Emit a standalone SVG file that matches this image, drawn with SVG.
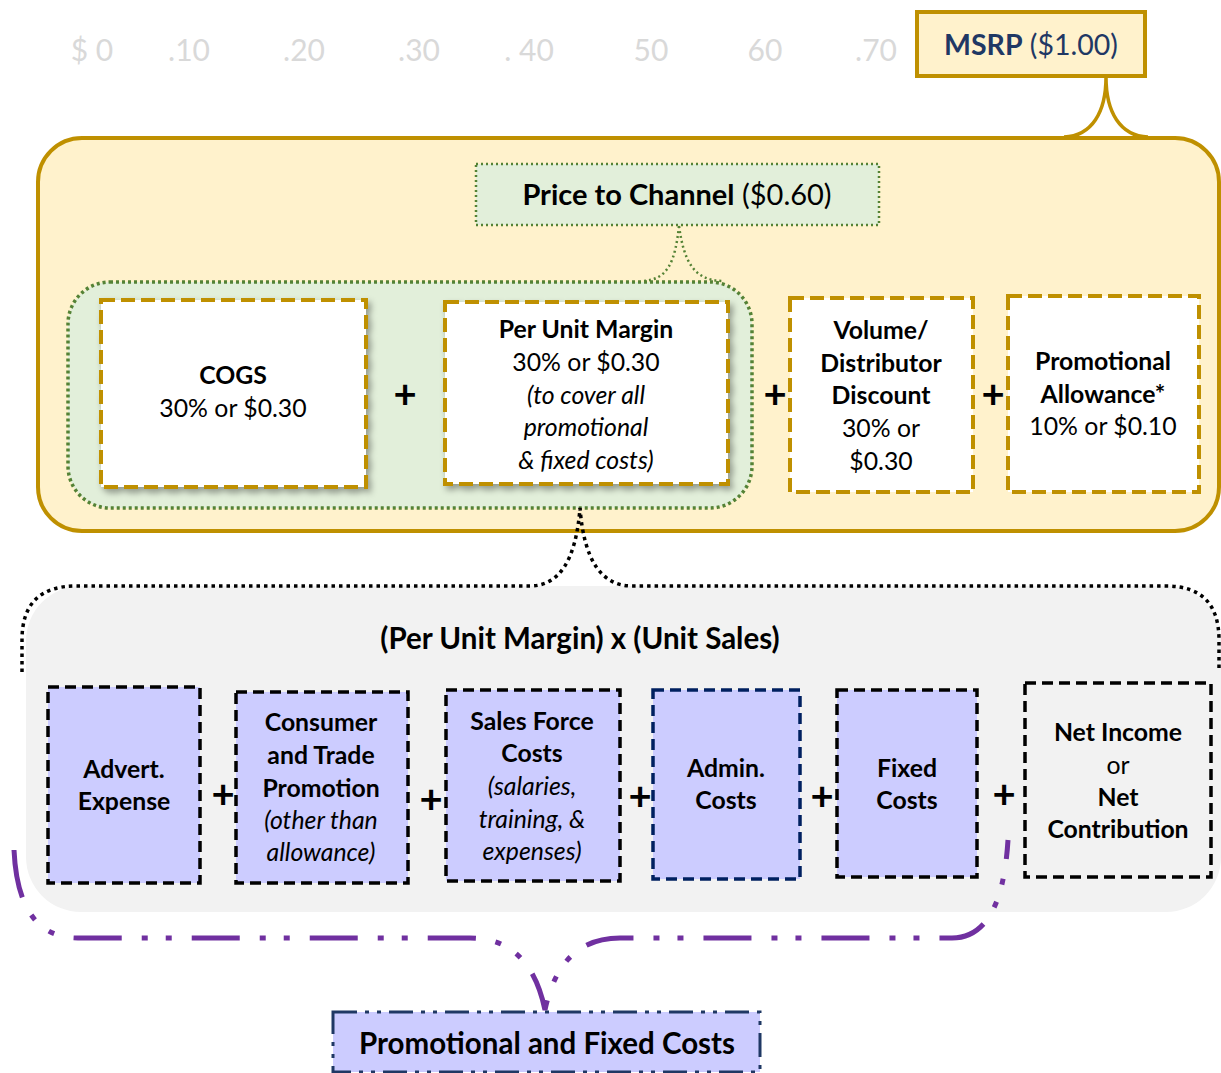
<svg xmlns="http://www.w3.org/2000/svg" width="1221" height="1073" viewBox="0 0 1221 1073">
<defs>
<style>
text{font-family:Lato,"Open Sans","Liberation Sans",sans-serif;text-anchor:middle;fill:#000}
.axis{font-size:30px;fill:#d9d9d9}
.t{font-size:24.8px}
.b{font-weight:bold}
.i{font-style:italic}
.gold{fill:#fff;stroke:#bf9000;stroke-width:4;stroke-dasharray:14 6}
.blu{fill:#ccccff;stroke:#000;stroke-width:3.5;stroke-dasharray:11 6}
.plus{font-size:40px;font-weight:bold}
</style>
<filter id="sh" x="-10%" y="-10%" width="130%" height="130%">
<feDropShadow dx="3" dy="4" stdDeviation="3" flood-color="#000" flood-opacity="0.35"/>
</filter>
</defs>
<rect width="1221" height="1073" fill="#fff"/>
<g id="axis">
<text class="axis" x="92" y="61">$ 0</text>
<text class="axis" x="189" y="61">.10</text>
<text class="axis" x="304" y="61">.20</text>
<text class="axis" x="419" y="61">.30</text>
<text class="axis" x="529" y="61">. 40</text>
<text class="axis" x="651" y="61">50</text>
<text class="axis" x="765" y="61">60</text>
<text class="axis" x="876" y="61">.70</text>
</g>
<g id="yellow-area">
<rect x="38" y="138" width="1181" height="393" rx="44" fill="#fff2cc" stroke="#bf9000" stroke-width="4"/>
</g>
<g id="green-area">
<rect x="68" y="282" width="684" height="226" rx="42" fill="#e2efda" stroke="#548235" stroke-width="3.5" stroke-dasharray="3 3"/>
</g>
<g id="gray-area">
<rect x="26" y="586" width="1195" height="326" rx="55" fill="#f2f2f2"/>
</g>
<g id="connectors" fill="none">
<path d="M1106,77 C1106,112 1092,136 1064,137 M1106,77 C1106,112 1120,136 1148,137" stroke="#bf9000" stroke-width="3.5"/>
<path d="M679,226 C675,262 668,280 642,281 M679,226 C684,262 694,280 722,281" stroke="#548235" stroke-width="2.5" stroke-dasharray="2 3"/>
<path d="M22,672 L22,640 Q22,586 76,586 L530,586 Q574,586 580,508 Q586,586 632,586 L1166,586 Q1219,586 1219,640 L1219,672" stroke="#000" stroke-width="3.5" stroke-dasharray="3.5 4"/>
<path d="M14,850 Q18,938 78,938 L470,938 Q530,938 545,1010 Q560,938 620,938 L952,938 Q1002,938 1008,840" stroke="#7030a0" stroke-width="5" stroke-dasharray="48 20 6 18 6 20"/>
</g>
<g id="msrp">
<rect x="917" y="12" width="228" height="64" fill="#fff2cc" stroke="#bf9000" stroke-width="4"/>
<text x="1031" y="55" style="font-size:28.5px;fill:#1f3864"><tspan class="b" style="fill:#1f3864">MSRP</tspan> ($1.00)</text>
</g>
<g id="price-to-channel">
<rect x="476" y="164" width="403" height="61" fill="#e2efda" stroke="#548235" stroke-width="2.5" stroke-dasharray="2 3"/>
<text x="677" y="205" style="font-size:29px"><tspan class="b">Price to Channel</tspan> ($0.60)</text>
</g>
<g id="cogs">
<rect class="gold" x="101" y="300" width="265" height="187" filter="url(#sh)"/>
<text class="t b" x="233" y="384">COGS</text>
<text class="t" x="233" y="417">30% or $0.30</text>
</g>
<text class="plus" x="405" y="408">+</text>
<g id="per-unit-margin">
<rect class="gold" x="445" y="302" width="283" height="182" filter="url(#sh)"/>
<text class="t b" x="586" y="338">Per Unit Margin</text>
<text class="t" x="586" y="371">30% or $0.30</text>
<text class="t i" x="586" y="404">(to cover all</text>
<text class="t i" x="586" y="436">promotional</text>
<text class="t i" x="586" y="469">&amp; fixed costs)</text>
</g>
<text class="plus" x="775" y="408">+</text>
<g id="volume-discount">
<rect class="gold" x="790" y="298" width="183" height="194"/>
<text class="t b" x="881" y="339">Volume/</text>
<text class="t b" x="881" y="372">Distributor</text>
<text class="t b" x="881" y="404">Discount</text>
<text class="t" x="881" y="437">30% or</text>
<text class="t" x="881" y="470">$0.30</text>
</g>
<text class="plus" x="993" y="408">+</text>
<g id="promo-allowance">
<rect class="gold" x="1008" y="296" width="191" height="196"/>
<text class="t b" x="1103" y="370">Promotional</text>
<text class="t b" x="1103" y="403">Allowance*</text>
<text class="t" x="1103" y="435">10% or $0.10</text>
</g>
<g id="unit-sales-title">
<text class="b" x="580" y="649" style="font-size:29.5px">(Per Unit Margin) x (Unit Sales)</text>
</g>
<g id="advert">
<rect class="blu" x="48" y="687" width="152" height="196"/>
<text class="t b" x="124" y="778">Advert.</text>
<text class="t b" x="124" y="810">Expense</text>
</g>
<text class="plus" x="223" y="808">+</text>
<g id="consumer-trade">
<rect class="blu" x="236" y="692" width="172" height="191"/>
<text class="t b" x="321" y="731">Consumer</text>
<text class="t b" x="321" y="764">and Trade</text>
<text class="t b" x="321" y="797">Promotion</text>
<text class="t i" x="321" y="829">(other than</text>
<text class="t i" x="321" y="861">allowance)</text>
</g>
<text class="plus" x="431" y="813">+</text>
<g id="sales-force">
<rect class="blu" x="446" y="690" width="174" height="191"/>
<text class="t b" x="532" y="730">Sales Force</text>
<text class="t b" x="532" y="762">Costs</text>
<text class="t i" x="532" y="795">(salaries,</text>
<text class="t i" x="532" y="828">training, &amp;</text>
<text class="t i" x="532" y="860">expenses)</text>
</g>
<text class="plus" x="640" y="810">+</text>
<g id="admin">
<rect class="blu" x="653" y="690" width="147" height="189" style="stroke:#002060"/>
<text class="t b" x="726" y="777">Admin.</text>
<text class="t b" x="726" y="809">Costs</text>
</g>
<text class="plus" x="822" y="810">+</text>
<g id="fixed">
<rect class="blu" x="837" y="690" width="140" height="187"/>
<text class="t b" x="907" y="777">Fixed</text>
<text class="t b" x="907" y="809">Costs</text>
</g>
<text class="plus" x="1004" y="808">+</text>
<g id="net-income">
<rect class="blu" x="1025" y="683" width="186" height="194" style="fill:none"/>
<text class="t b" x="1118" y="741">Net Income</text>
<text class="t" x="1118" y="774">or</text>
<text class="t b" x="1118" y="806">Net</text>
<text class="t b" x="1118" y="838">Contribution</text>
</g>
<g id="promo-fixed-costs">
<rect x="333" y="1012" width="427" height="60" fill="#ccccff" stroke="#1f3864" stroke-width="3" stroke-dasharray="24 8 4 8 4 8"/>
<text class="b" x="547" y="1054" style="font-size:29.5px">Promotional and Fixed Costs</text>
</g>
</svg>
